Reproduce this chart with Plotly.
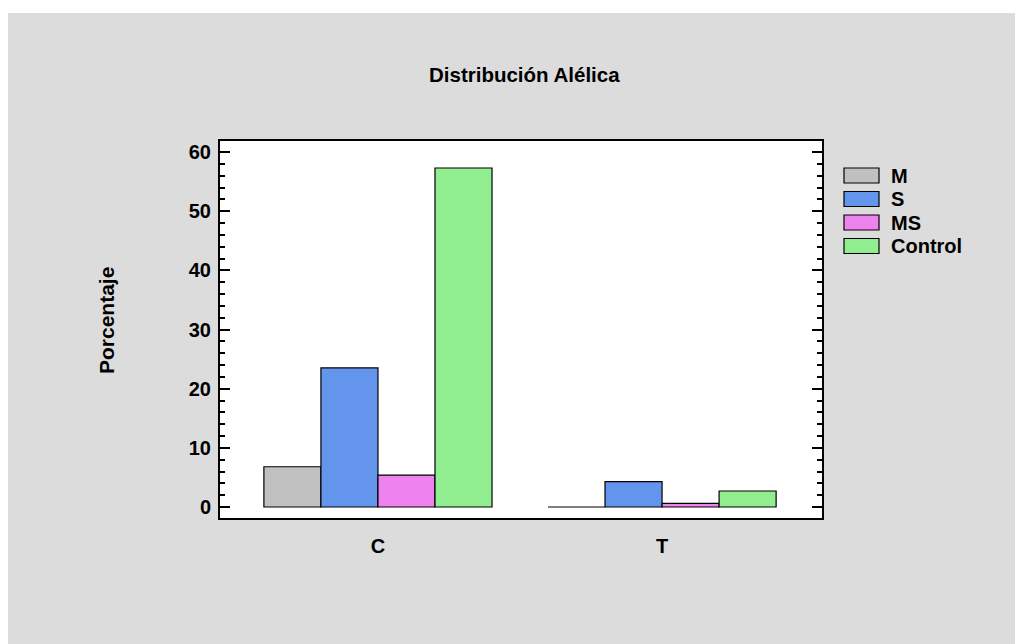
import plotly.graph_objects as go

categories = ["C", "T"]
series_names = ["M", "S", "MS", "Control"]
values_M = [6.8, 0.0]
values_S = [23.5, 4.3]
values_MS = [5.4, 0.6]
values_Control = [57.3, 2.7]
colors = ["#c0c0c0", "#6495ed", "#ee82ee", "#90ee90"]
y_tickvals = [0, 10, 20, 30, 40, 50, 60]

series_values = [values_M, values_S, values_MS, values_Control]

W, H = 1015, 644
# plot frame in screen px
L, R, T, B = 220, 822, 141, 518
pw, ph = R - L, B - T


def px(x):
    return (x - L) / pw


def py(y):
    return (B - y) / ph


FONT = "Liberation Sans"

fig = go.Figure()
for name, vals, col in zip(series_names, series_values, colors):
    fig.add_trace(go.Bar(
        x=[0, 1], y=vals, name=name,
        marker=dict(color=col, line=dict(color="black", width=1.2)),
        showlegend=False,
    ))

shapes = [
    dict(type="rect", xref="paper", yref="paper",
         x0=px(8), x1=px(1030), y0=py(660), y1=py(13),
         fillcolor="#dcdcdc", line=dict(width=0), layer="below"),
    dict(type="rect", xref="paper", yref="paper", x0=0, x1=1, y0=0, y1=1,
         fillcolor="white", line=dict(width=0), layer="below"),
]
annotations = []
# legend drawn as boxes + labels
for i, (name, col) in enumerate(zip(series_names, colors)):
    top = 168 + i * 23.5
    shapes.append(dict(type="rect", xref="paper", yref="paper",
                       x0=px(844), x1=px(879), y0=py(top + 15), y1=py(top),
                       fillcolor=col, line=dict(color="black", width=1.2)))
    annotations.append(dict(xref="paper", yref="paper",
                            x=px(889), y=py(top + 7.5),
                            text=f"<b>{name}</b>", showarrow=False,
                            xanchor="left", yanchor="middle",
                            font=dict(family=FONT, size=20, color="black")))

annotations.append(dict(xref="paper", yref="paper",
                        x=px(524), y=py(75),
                        text="<b>Distribución Alélica</b>", showarrow=False,
                        xanchor="center", yanchor="middle",
                        font=dict(family=FONT, size=20.5, color="black")))
annotations.append(dict(xref="paper", yref="paper",
                        x=px(106), y=py(321),
                        text="<b>Porcentaje</b>", showarrow=False, textangle=-90,
                        xanchor="center", yanchor="middle",
                        font=dict(family=FONT, size=21, color="black")))

fig.update_layout(
    width=W, height=H,
    margin=dict(l=L, r=W - R, t=T, b=H - B, pad=0),
    paper_bgcolor="white", plot_bgcolor="white",
    barmode="group", bargap=0.197, bargroupgap=0,
    shapes=shapes, annotations=annotations,
    font=dict(family=FONT, color="black"),
    xaxis=dict(range=[-0.556, 1.563], tickvals=[0, 1],
               ticktext=[f"<b>{c}</b>" for c in categories],
               showline=True, linecolor="black", linewidth=2, mirror=True,
               ticks="", showgrid=False, zeroline=False,
               tickfont=dict(family=FONT, size=20), ticklabelstandoff=9),
    yaxis=dict(range=[-1.86, 61.86], tickvals=y_tickvals,
               ticktext=[f"<b>{v}</b>" for v in y_tickvals],
               showline=True, linecolor="black", linewidth=2, mirror="allticks",
               ticks="inside", ticklen=10, tickwidth=2, tickcolor="black",
               minor=dict(dtick=2, ticks="inside", ticklen=5, tickwidth=2, tickcolor="black"),
               showgrid=False, zeroline=False,
               tickfont=dict(family=FONT, size=20), ticklabelstandoff=3),
)

fig.write_html(
    "out.html",
    config={"displayModeBar": False},
    post_script="document.body.style.margin='0';document.body.style.overflow='hidden';",
)
